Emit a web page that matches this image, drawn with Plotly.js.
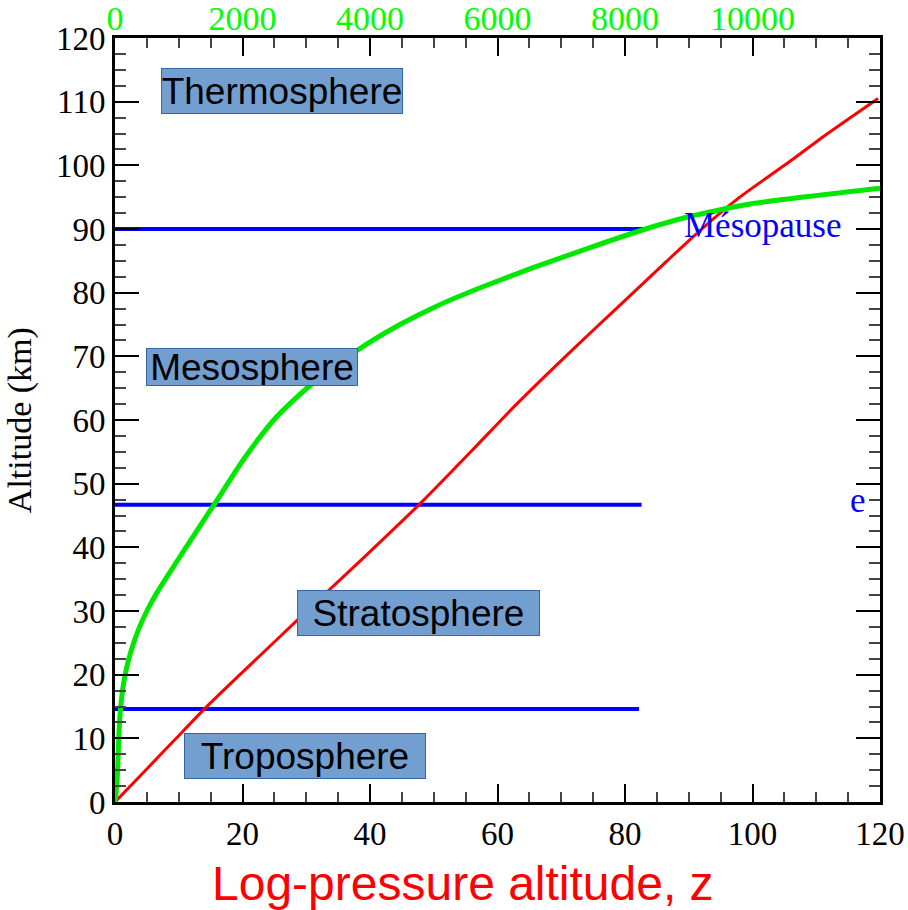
<!DOCTYPE html>
<html>
<head>
<meta charset="utf-8">
<script src="https://cdn.plot.ly/plotly-3.0.1.min.js"></script>
<style>html,body{margin:0;padding:0;background:#fff;}#chart{width:908px;height:910px;}</style>
</head>
<body>
<div id="chart"></div>
<script>
// Red curve: log-pressure altitude z (bottom axis) vs altitude (km)
const redAlt = [0, 5, 10, 14.4, 20, 26, 32, 38, 47.1, 55, 62.1, 68, 74.1, 80, 85, 89.8, 95, 100, 105, 110.5];
const redZ   = [0, 4.8, 9.6, 13.8, 19.6, 25.9, 32.2, 38.6, 48.1, 55.8, 62.6, 68.6, 75, 81.3, 86.6, 91.8, 98, 105, 111.8, 119.7];
// Green curve: values on the top axis (0-12000) vs altitude (km)
const greenAlt = [0, 3, 6, 9, 12, 15, 18, 21, 24, 27, 30, 33, 36, 39, 42, 45, 48, 51, 54, 57, 60, 63, 66, 69, 72, 75, 78, 81, 84, 87, 90, 92, 94, 96.4];
const greenVal = [0, 30, 45, 55, 68, 90, 125, 180, 260, 365, 500, 665, 855, 1050, 1245, 1440, 1640, 1830, 2030, 2250, 2490, 2790, 3130, 3520, 3960, 4470, 5070, 5790, 6580, 7430, 8320, 9030, 10000, 12000];
// Blue layer boundaries (altitude) and where each line ends on the z axis
const boundaryAlt = [90, 46.7, 14.6];
const boundaryEnd = [83, 82.6, 82.2];
// Layer labels
const layerNames = ["Thermosphere", "Mesosphere", "Stratosphere", "Troposphere"];
const layerZ     = [26.2, 21.5, 47.6, 29.8];
const layerAlt   = [111.7, 68.3, 29.7, 7.2];
const layerW     = [242, 212, 243, 242];
const layerH     = [46, 38, 46, 46];
// Tick labels
const bottomTicks = [0, 20, 40, 60, 80, 100, 120];
const leftTicks = [0, 10, 20, 30, 40, 50, 60, 70, 80, 90, 100, 110, 120];
const topTicks = [0, 2000, 4000, 6000, 8000, 10000];

const bx = [], by = [];
boundaryAlt.forEach((a, i) => { bx.push(0, boundaryEnd[i], null); by.push(a, a, null); });

const traces = [
  {x: bx, y: by, mode: 'lines', line: {color: '#0000ff', width: 4}, hoverinfo: 'skip', showlegend: false},
  {x: redZ, y: redAlt, mode: 'lines', line: {color: '#ff0000', width: 3, shape: 'spline', smoothing: 0.6}, showlegend: false},
  {x: greenVal, y: greenAlt, xaxis: 'x2', mode: 'lines', line: {color: '#00e800', width: 5, shape: 'spline', smoothing: 0.5}, showlegend: false}
];

const serif = 'Liberation Serif, Times New Roman, serif';
const annotations = layerNames.map((n, i) => ({
  text: n, x: layerZ[i], y: layerAlt[i], xref: 'x', yref: 'y', showarrow: false,
  xanchor: 'center', yanchor: 'middle', width: layerW[i] - 2, height: layerH[i] - 2,
  bgcolor: '#729fcf', bordercolor: '#3465a4', borderwidth: 1, borderpad: 0,
  font: {family: 'Liberation Sans, Arial, sans-serif', size: 37, color: '#000'}
}));
annotations.push(
  {text: 'Mésopause', x: 101.6, y: 90.6, xref: 'x', yref: 'y', showarrow: false, xanchor: 'center', yanchor: 'middle',
   font: {family: serif, size: 35, color: '#0000ff'}},
  {text: 'e', x: 116.5, y: 47.3, xref: 'x', yref: 'y', showarrow: false, xanchor: 'center', yanchor: 'middle',
   font: {family: serif, size: 35, color: '#0000ff'}},
  {text: 'Altitude (km)', x: -0.124, y: 0.5, xref: 'paper', yref: 'paper', showarrow: false, textangle: -90,
   xanchor: 'center', yanchor: 'middle', font: {family: serif, size: 34, color: '#000'}},
  {text: 'Log-pressure altitude, z', x: 0.455, y: -0.107, xref: 'paper', yref: 'paper', showarrow: false,
   xanchor: 'center', yanchor: 'middle', font: {family: 'Liberation Sans, Arial, sans-serif', size: 48, color: '#ff0000'}}
);

const layout = {
  width: 908, height: 910,
  margin: {l: 115, r: 28, t: 38, b: 108},
  paper_bgcolor: '#fff', plot_bgcolor: '#fff',
  showlegend: false,
  xaxis: {
    range: [0, 120], tickmode: 'array', tickvals: bottomTicks, ticktext: bottomTicks.map(String),
    ticks: 'inside', ticklen: 18, tickwidth: 2, tickcolor: '#000',
    minor: {dtick: 5, tick0: 0, ticks: 'inside', ticklen: 10, tickwidth: 2, tickcolor: '#444'},
    showline: true, linecolor: '#000', linewidth: 3, mirror: 'ticks',
    showgrid: false, zeroline: false,
    tickfont: {family: serif, size: 33, color: '#000'}
  },
  xaxis2: {
    overlaying: 'x', side: 'top', range: [0, 12000], tickmode: 'array', tickvals: topTicks, ticktext: topTicks.map(String),
    ticks: '', showline: false, showgrid: false, zeroline: false,
    tickfont: {family: serif, size: 34, color: '#00ff00'}
  },
  yaxis: {
    range: [0, 120], tickmode: 'array', tickvals: leftTicks, ticktext: leftTicks.map(String),
    ticks: 'inside', ticklen: 24, tickwidth: 2, tickcolor: '#000',
    minor: {dtick: 2.5, tick0: 0, ticks: 'inside', ticklen: 11, tickwidth: 2, tickcolor: '#444'},
    showline: true, linecolor: '#000', linewidth: 3, mirror: 'ticks',
    showgrid: false, zeroline: false,
    tickfont: {family: serif, size: 33, color: '#000'}
  },
  annotations: annotations
};

Plotly.newPlot('chart', traces, layout, {displayModeBar: false, staticPlot: true});
</script>
</body>
</html>
